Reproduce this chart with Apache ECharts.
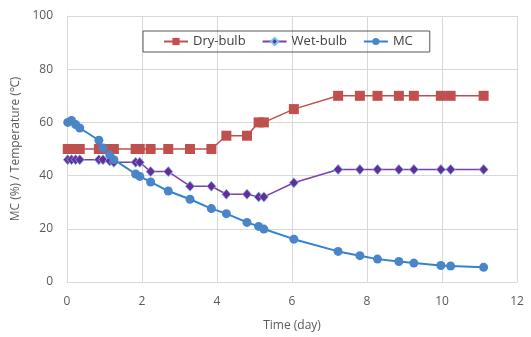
<!DOCTYPE html>
<html>
<head>
<meta charset="utf-8">
<script src="https://cdn.jsdelivr.net/npm/echarts@6/dist/echarts.min.js"></script>
<style>
  html, body { margin: 0; padding: 0; background: #fff; }
  #chart { width: 531px; height: 337px; }
</style>
</head>
<body>
<div id="chart"></div>
<script>
// sampling times (day), shared by all three series
const days = [0.02, 0.12, 0.23, 0.34, 0.85, 0.96, 1.14, 1.25, 1.83, 1.94, 2.23, 2.70, 3.28, 3.85,
  4.25, 4.80, 5.11, 5.25, 6.05, 7.23, 7.81, 8.28, 8.85, 9.25, 9.97, 10.23, 11.11]

const dryBulb = [50, 50, 50, 50, 50, 50, 50, 50, 50, 50, 50, 50, 50, 50,
  55, 55, 60, 60, 65, 70, 70, 70, 70, 70, 70, 70, 70]

const wetBulb = [46, 46, 46, 46, 46, 46, 45.5, 45, 45, 45, 41.5, 41.5, 36, 36,
  33, 33, 32, 32, 37.3, 42.3, 42.3, 42.3, 42.3, 42.3, 42.3, 42.3, 42.3]

const mc = [60, 60.7, 59.2, 57.9, 53.3, 50.4, 47.8, 46, 40.6, 39.7, 37.6, 34.2, 31.1, 27.6,
  25.7, 22.4, 20.9, 19.9, 16.1, 11.5, 9.9, 8.6, 7.7, 7.1, 6.2, 6.0, 5.5]

const xTicks = [0, 12, 2]   // min, max, interval
const yTicks = [0, 100, 20]

const zip = (vals) => days.map((d, i) => [d, vals[i]])

const font = '"Open Sans", "Noto Sans", sans-serif'
const gridColor = '#d9d9d9'
const textColor = '#595959'

const chart = echarts.init(document.getElementById('chart'))

chart.setOption({
  animation: false,
  backgroundColor: '#fff',
  textStyle: { fontFamily: font },
  grid: { left: 67, right: 14, top: 16, bottom: 54 },
  legend: {
    data: ['Dry-bulb', 'Wet-bulb', 'MC'],
    left: 143,
    top: 31,
    itemWidth: 24,
    itemHeight: 9,
    itemGap: 16,
    padding: [4, 17, 4, 20],
    borderColor: '#595959',
    borderWidth: 1,
    textStyle: { color: '#404040', fontSize: 13, fontFamily: font }
  },
  xAxis: {
    type: 'value',
    min: xTicks[0],
    max: xTicks[1],
    interval: xTicks[2],
    name: 'Time (day)',
    nameLocation: 'middle',
    nameGap: 38,
    nameTextStyle: { color: textColor, fontSize: 12 },
    axisLine: { lineStyle: { color: gridColor } },
    axisTick: { show: false },
    axisLabel: { color: textColor, fontSize: 12, margin: 14 },
    splitLine: { lineStyle: { color: gridColor } }
  },
  yAxis: {
    type: 'value',
    min: yTicks[0],
    max: yTicks[1],
    interval: yTicks[2],
    name: 'MC (%) / Temperature (\u2103)',
    nameLocation: 'middle',
    nameGap: 33,
    nameTextStyle: { color: textColor, fontSize: 12 },
    axisLine: { show: true, lineStyle: { color: gridColor } },
    axisTick: { show: false },
    axisLabel: { color: textColor, fontSize: 12, margin: 14 },
    splitLine: { lineStyle: { color: gridColor } }
  },
  series: [
    {
      name: 'Dry-bulb',
      type: 'line',
      data: zip(dryBulb),
      symbol: 'rect',
      symbolSize: 10,
      lineStyle: { color: '#c0504d', width: 1.5 },
      itemStyle: { color: '#c0504d' }
    },
    {
      name: 'Wet-bulb',
      type: 'line',
      data: zip(wetBulb),
      symbol: 'diamond',
      symbolSize: [9, 10],
      lineStyle: { color: '#7b3fb0', width: 1.5 },
      itemStyle: { color: '#6a2a9c', borderColor: '#6fc6e0', borderWidth: 0.8 }
    },
    {
      name: 'MC',
      type: 'line',
      data: zip(mc),
      symbol: 'circle',
      symbolSize: 9,
      lineStyle: { color: '#2f83d0', width: 2 },
      itemStyle: { color: '#4a85c8' }
    }
  ]
})
</script>
</body>
</html>
